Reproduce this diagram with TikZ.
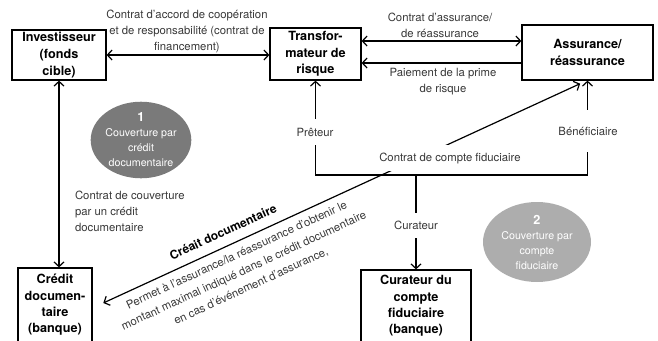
\documentclass[tikz,border=0pt]{standalone}
\usepackage{fontspec}
\setmainfont{TeX Gyre Heros}
\usetikzlibrary{arrows.meta,shapes.geometric}

\begin{document}
\begin{tikzpicture}[x=0.75pt,y=-0.75pt,line width=0.9pt,
  >={Straight Barb[length=3.5pt,width=7.5pt]},
  acteur/.style={draw,align=center,inner sep=0pt,
    font=\fontsize{9.5}{12.5}\selectfont\bfseries},
  etiq/.style={align=center,text=black!78,
    font=\fontsize{8.5}{12}\selectfont},
  cache/.style={etiq,fill=white,inner sep=3pt},
  bulle/.style={ellipse,draw=none,text=white,align=center,inner sep=0pt,
    font=\fontsize{8}{11.25}\selectfont}]
  \useasboundingbox (0,0) rectangle (658,340);

  % acteurs
  \node[acteur,minimum width=70.5pt,minimum height=37.5pt] (inv) at (59,55)
    {Investisseur\\(fonds\\cible)};
  \node[acteur,minimum width=68.25pt,minimum height=39pt] (trans) at (315.5,54)
    {Transfor-\\mateur de\\risque};
  \node[acteur,minimum width=98.25pt,minimum height=41.25pt] (assur) at (587.5,52.5)
    {Assurance/\\réassurance};
  \node[acteur,minimum width=55.5pt,minimum height=55.5pt,
    font=\fontsize{9.5}{12.3}\selectfont\bfseries] (credit) at (55,305)
    {Crédit\\documen-\\taire\\(banque)};
  \node[acteur,minimum width=82.5pt,minimum height=54pt,
    font=\fontsize{9.5}{12.3}\selectfont\bfseries] (cur) at (416,306)
    {Curateur du\\compte\\fiduciaire\\(banque)};

  % bulles
  \node[bulle,fill=black!52,minimum width=69pt,minimum height=57pt] (b1) at (141,140)
    {{\fontsize{9.5}{11}\selectfont\bfseries 1}\\Couverture par\\crédit\\documentaire};
  \node[bulle,fill=black!32,minimum width=81pt,minimum height=60pt] (b2) at (537,242)
    {{\fontsize{9.5}{11}\selectfont\bfseries 2}\\Couverture par\\compte\\fiduciaire};

  % liens du haut
  \draw[<->] (inv.east) -- (inv.east -| trans.west);
  \draw[<->] (trans.east |- 0,41) -- (assur.west |- 0,41);
  \draw[->] (assur.west |- 0,63) -- (trans.east |- 0,63);
  \draw[<->] (inv.south) -- (inv.south |- credit.north);

  % compte fiduciaire
  \coordinate (fid) at (416,175);
  \draw[<->] (trans.south) |- (fid) -| (assur.south);
  \draw[->] (fid) -- (fid |- cur.north);
  \draw[<->] ([xshift=8pt,yshift=1.5pt]credit.east)
    -- ([xshift=-5.5pt,yshift=-2.3pt]assur.south);

  % textes
  \node[etiq] (lcoop) at (187,31)
    {Contrat d'accord de coopération\\et de responsabilité (contrat de\\financement)};
  \node[etiq] (lassur) at (440,25) {Contrat d'assurance/\\de réassurance};
  \node[etiq] (lprime) at (443,82) {Paiement de la prime\\de risque};
  \node[etiq,align=left,anchor=west] (lcouv) at (70,211)
    {Contrat de couverture\\par un crédit\\documentaire};
  \node[cache,minimum height=20pt] (lpreteur) at (315,132) {Prêteur};
  \node[cache,minimum height=31pt] (lbenef) at (588,131) {Bénéficiaire};
  \node[cache,minimum height=19pt] (lcurateur) at (416,225.5) {Curateur};
  \node[cache,minimum height=19.5pt] (lfid) at (450,158) {Contrat de compte fiduciaire};
  \node[font=\fontsize{9}{10}\selectfont\bfseries,rotate=24.8] (lcredoc) at (223,232)
    {Créait documentaire};
  \node[etiq,rotate=24.8,font=\fontsize{8.5}{12.8}\selectfont] (lpermet) at (244,271)
    {Permet à l'assurance/la réassurance d'obtenir le\\montant maximal indiqué dans le crédit documentaire\\en cas d'événement d'assurance,};
\end{tikzpicture}
\end{document}
